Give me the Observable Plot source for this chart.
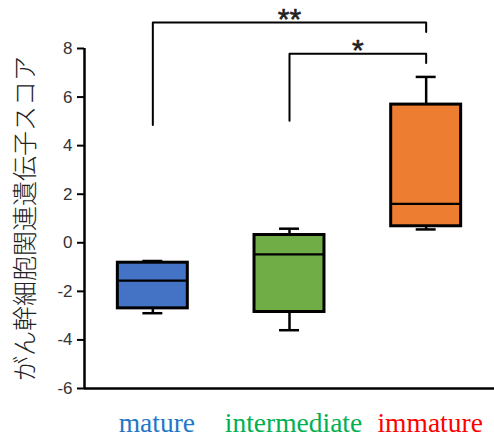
<!DOCTYPE html>
<html><head><meta charset="utf-8">
<script src="https://cdn.jsdelivr.net/npm/d3@7"></script>
<script src="https://cdn.jsdelivr.net/npm/@observablehq/plot@0.6"></script>
<style>body{margin:0;background:#fff;} svg{display:block;}</style>
</head><body><div id="chart"></div>
<script>
const categories = ["mature", "intermediate", "immature"];
const q1 = [-2.7, -2.85, 0.68];
const median = [-1.56, -0.48, 1.6];
const q3 = [-0.82, 0.32, 5.69];
const whiskerLow = [-2.9, -3.6, 0.55];
const whiskerHigh = [-0.75, 0.58, 6.83];
const boxColors = ["#4472C4", "#70AD47", "#ED7D31"];
const labelColors = ["#1F77C8", "#00B050", "#FF0000"];
const yTicks = [-6, -4, -2, 0, 2, 4, 6, 8];
const yTitle = "がん幹細胞関連遺伝子スコア";
// significance brackets
const bracketFrom = [0, 1];
const bracketTo = [2, 2];
const bracketLeftEnd = [4.85, 5.02];
const bracketTop = [9.07, 7.78];
const bracketRightEnd = [8.68, 7.4];
const bracketLabels = ["**", "*"];

const boxes = categories.map((c, i) => ({i, c, q1: q1[i], med: median[i], q3: q3[i], lo: whiskerLow[i], hi: whiskerHigh[i], color: boxColors[i], lc: labelColors[i]}));
const brackets = bracketFrom.map((f, k) => ({k, from: f, to: bracketTo[k], left: bracketLeftEnd[k], top: bracketTop[k], right: bracketRightEnd[k], label: bracketLabels[k]}));
const bracketPts = brackets.flatMap(b => [
  {k: b.k, x: b.from, y: b.left},
  {k: b.k, x: b.from, y: b.top},
  {k: b.k, x: b.to, y: b.top},
  {k: b.k, x: b.to, y: b.right}
]);
const half = 0.256, cap = 0.073;
const xDomain = [-0.5, categories.length - 0.5];

const chart = Plot.plot({
  width: 494, height: 439,
  marginLeft: 84, marginRight: 0, marginTop: 48, marginBottom: 51,
  style: {fontFamily: "'Liberation Sans', Arial, sans-serif", background: "#fff"},
  x: {domain: xDomain, axis: null},
  y: {domain: [-6, 8], axis: null},
  marks: [
    Plot.axisY({ticks: yTicks, tickFormat: d => `${d}`, tickSize: 7, tickPadding: 5, fontSize: 17, label: null, strokeWidth: 2, stroke: "#000", fill: "#333"}),
    Plot.ruleX([xDomain[0]], {stroke: "#000", strokeWidth: 2.5}),
    Plot.ruleY([-6], {stroke: "#000", strokeWidth: 2.5}),
    // whiskers
    Plot.ruleX(boxes, {x: "i", y1: "lo", y2: "hi", stroke: "#000", strokeWidth: 2.5}),
    Plot.ruleY(boxes, {y: "lo", x1: d => d.i - cap, x2: d => d.i + cap, stroke: "#000", strokeWidth: 2.5}),
    Plot.ruleY(boxes, {y: "hi", x1: d => d.i - cap, x2: d => d.i + cap, stroke: "#000", strokeWidth: 2.5}),
    // boxes
    Plot.rect(boxes, {x1: d => d.i - half, x2: d => d.i + half, y1: "q1", y2: "q3", fill: "color", stroke: "#000", strokeWidth: 3}),
    Plot.ruleY(boxes, {y: "med", x1: d => d.i - half, x2: d => d.i + half, stroke: "#000", strokeWidth: 2.2}),
    // brackets
    Plot.line(bracketPts, {x: "x", y: "y", z: "k", stroke: "#000", strokeWidth: 2}),
    Plot.text(brackets, {x: d => (d.from + d.to) / 2, y: "top", text: "label", fontSize: 30, lineAnchor: "bottom", dy: 6, fill: "#222", stroke: "#222", strokeWidth: 0.6}),
    // x labels
    Plot.text(boxes, {x: "i", text: "c", fill: "lc", frameAnchor: "bottom", lineAnchor: "bottom", dy: 43, dx: 4, fontSize: 27.5, fontFamily: "'Liberation Serif', 'Times New Roman', serif"}),
    // y title
    Plot.text([yTitle], {frameAnchor: "left", textAnchor: "middle", rotate: -90, dx: -59, fontSize: 25, fill: "#222", fontFamily: "'Noto Sans CJK JP', sans-serif", fontWeight: 300})
  ]
});
document.getElementById("chart").append(chart);
</script></body></html>
